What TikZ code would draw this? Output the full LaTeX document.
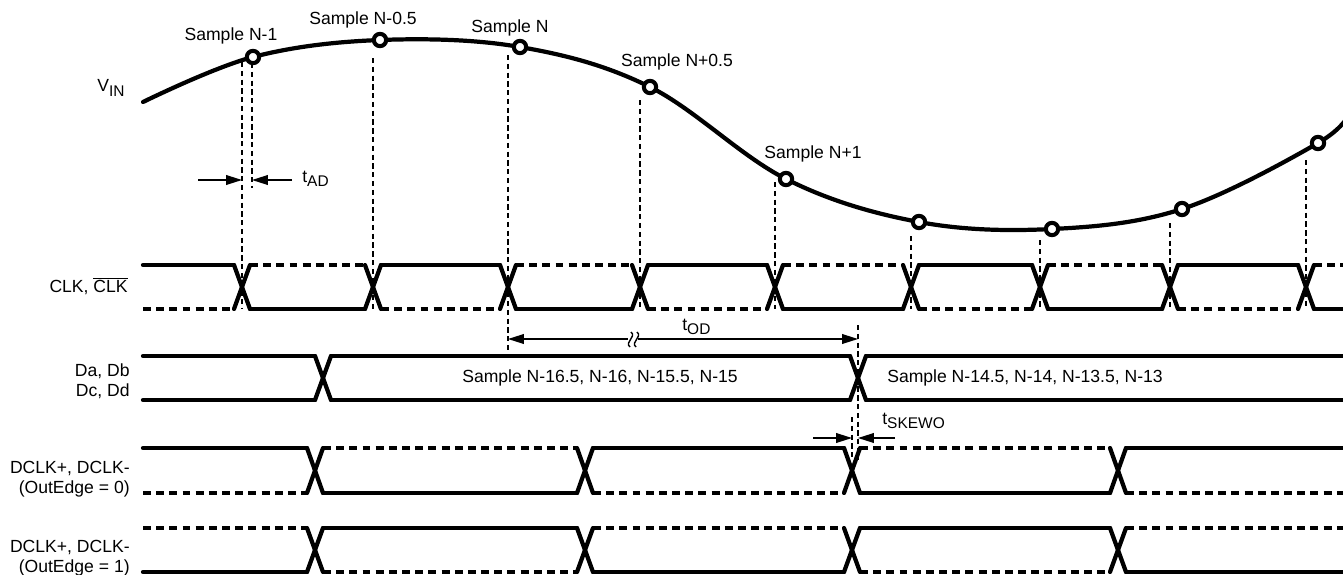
\documentclass[tikz,border=0pt]{standalone}
\usepackage{fontspec}
\setmainfont{Liberation Sans}
\usetikzlibrary{arrows.meta}
\newcommand{\lowsub}[1]{\raisebox{-0.45ex}{\fontsize{8.8}{10}\selectfont #1}}
\begin{document}
\begin{tikzpicture}[x=0.02cm,y=-0.02cm, font=\fontsize{10}{12}\selectfont,
  sig/.style={line width=2.4pt, line cap=round},
  sigd/.style={line width=2.4pt, dash pattern=on 4.5pt off 3pt},
  guide/.style={line width=0.65pt, dash pattern=on 3pt off 2pt},
  dim/.style={line width=0.8pt},
  tip/.style={-{Triangle[length=9pt,width=5.5pt]}},
  samp/.style={circle, draw, fill=white, line width=2.3pt, minimum size=7pt, inner sep=0pt},
  lbl/.style={inner sep=0pt},
  rowlbl/.style={inner sep=0pt, anchor=east, align=right, font=\fontsize{10}{11.5}\selectfont}]
\useasboundingbox (0,0) rectangle (1343,575);

% ---------- VIN curve ----------
\draw[line width=2.4pt, line cap=round] plot[smooth, tension=0.6] coordinates
  {(143,102) (253,57) (380,40) (520,47) (650,87) (786,179) (919,222) (1052,229) (1182,209) (1318,143) (1350,112)};

% ---------- guide lines ----------
\coordinate (g1t) at (242,62);   \coordinate (g1b) at (242,309);
\coordinate (g1at) at (252,63);  \coordinate (g1ab) at (252,188);
\coordinate (g2t) at (373,58);   \coordinate (g2b) at (373,309);
\coordinate (g3t) at (508,55);   \coordinate (g3b) at (508,350);
\coordinate (g4t) at (640,100);  \coordinate (g4b) at (640,309);
\coordinate (g5t) at (775,182);  \coordinate (g5b) at (775,309);
\coordinate (g6t) at (911,236);  \coordinate (g6b) at (911,309);
\coordinate (g7t) at (1040,240); \coordinate (g7b) at (1040,309);
\coordinate (g8t) at (1170,223); \coordinate (g8b) at (1170,309);
\coordinate (g9t) at (1306,160); \coordinate (g9b) at (1306,309);
\coordinate (g10t) at (858,325); \coordinate (g10b) at (858,460);
\coordinate (g11t) at (852,417); \coordinate (g11b) at (852,460);
\foreach \n in {g1,g1a,g2,g3,g4,g5,g6,g7,g8,g9,g10,g11}
  \draw[guide] (\n t) -- (\n b);

% ---------- sample circles ----------
\node[samp] (s1) at (253,57) {};
\node[samp] (s2) at (380,40) {};
\node[samp] (s3) at (520,47) {};
\node[samp] (s4) at (650,87) {};
\node[samp] (s5) at (786,179) {};
\node[samp] (s6) at (919,222) {};
\node[samp] (s7) at (1052,229) {};
\node[samp] (s8) at (1182,209) {};
\node[samp] (s9) at (1318,143) {};

\node[lbl] (l1) at (231,36) {Sample N-1};
\node[lbl] (l2) at (363,20) {Sample N-0.5};
\node[lbl] (l3) at (510,28) {Sample N};
\node[lbl] (l4) at (677,62) {Sample N+0.5};
\node[lbl] (l5) at (813,154) {Sample N+1};
\node[lbl, anchor=west] (vin) at (97,88) {V\lowsub{IN}};

% ---------- tAD ----------
\coordinate (ad1) at (198,180); \coordinate (ad2) at (242,180);
\coordinate (ad3) at (292,180); \coordinate (ad4) at (252,180);
\draw[dim,tip] (ad1) -- (ad2);
\draw[dim,tip] (ad3) -- (ad4);
\node[lbl, anchor=west] (tad) at (302,179) {t\lowsub{AD}};

% ---------- CLK row ----------
\node[rowlbl] (clkl) at (128,286) {CLK, $\overline{\mbox{CLK}}$};
\foreach \a/\b/\hs/\ls in {143/234/sig/sigd, 250/365/sigd/sig, 381/500/sig/sigd, 516/632/sigd/sig,
  648/767/sig/sigd, 783/903/sigd/sig, 919/1032/sig/sigd, 1048/1162/sigd/sig, 1178/1298/sig/sigd, 1314/1350/sigd/sig}{
  \draw[\hs] (\a,265) -- (\b,265);
  \draw[\ls] (\a,309) -- (\b,309);
}
\foreach \c in {242,373,508,640,775,911,1040,1170,1306}{
  \draw[sig] (\c-8,265) -- (\c+8,309);
  \draw[sig] (\c-8,309) -- (\c+8,265);
}

% ---------- tOD ----------
\coordinate (od1) at (508,339); \coordinate (od2) at (628,339);
\coordinate (od3) at (638,339); \coordinate (od4) at (858,339);
\draw[dim, {Triangle[length=9pt,width=5.5pt]}-] (od1) -- (od2);
\draw[dim, tip] (od3) -- (od4);
\draw[dim] (630,347) .. controls (624,342) and (637,337) .. (631,332);
\draw[dim] (636,347) .. controls (630,342) and (643,337) .. (637,332);
\node[lbl, anchor=west] (tod) at (682,327) {t\lowsub{OD}};

% ---------- Data row ----------
\node[rowlbl] (dl) at (130,381) {Da, Db\\Dc, Dd};
\foreach \a/\b in {143/315, 331/850, 866/1350}{
  \draw[sig] (\a,356) -- (\b,356);
  \draw[sig] (\a,400) -- (\b,400);
}
\foreach \c in {323,858}{
  \draw[sig] (\c-8,356) -- (\c+8,400);
  \draw[sig] (\c-8,400) -- (\c+8,356);
}
\node[lbl] (d1) at (600,378) {Sample N-16.5, N-16, N-15.5, N-15};
\node[lbl] (d2) at (1025,378) {Sample N-14.5, N-14, N-13.5, N-13};

% ---------- tSKEWO ----------
\coordinate (sk1) at (813,438); \coordinate (sk2) at (852,438);
\coordinate (sk3) at (895,438); \coordinate (sk4) at (858,438);
\draw[dim,tip] (sk1) -- (sk2);
\draw[dim,tip] (sk3) -- (sk4);
\node[lbl, anchor=west] (tsk) at (882,421) {t\lowsub{SKEWO}};

% ---------- DCLK rows ----------
\node[rowlbl] (dc0) at (130,479) {DCLK+, DCLK-\\(OutEdge = 0)};
\node[rowlbl] (dc1) at (130,558) {DCLK+, DCLK-\\(OutEdge = 1)};
\foreach \a/\b/\hs/\ls in {143/307/sig/sigd, 323/577/sigd/sig, 593/844/sig/sigd, 860/1110/sigd/sig, 1126/1350/sig/sigd}{
  \draw[\hs] (\a,448) -- (\b,448);
  \draw[\ls] (\a,493) -- (\b,493);
  \draw[\ls] (\a,528) -- (\b,528);
  \draw[\hs] (\a,572) -- (\b,572);
}
\foreach \c in {315,585,852,1118}{
  \draw[sig] (\c-8,448) -- (\c+8,493);
  \draw[sig] (\c-8,493) -- (\c+8,448);
  \draw[sig] (\c-8,528) -- (\c+8,572);
  \draw[sig] (\c-8,572) -- (\c+8,528);
}
\end{tikzpicture}
\end{document}
